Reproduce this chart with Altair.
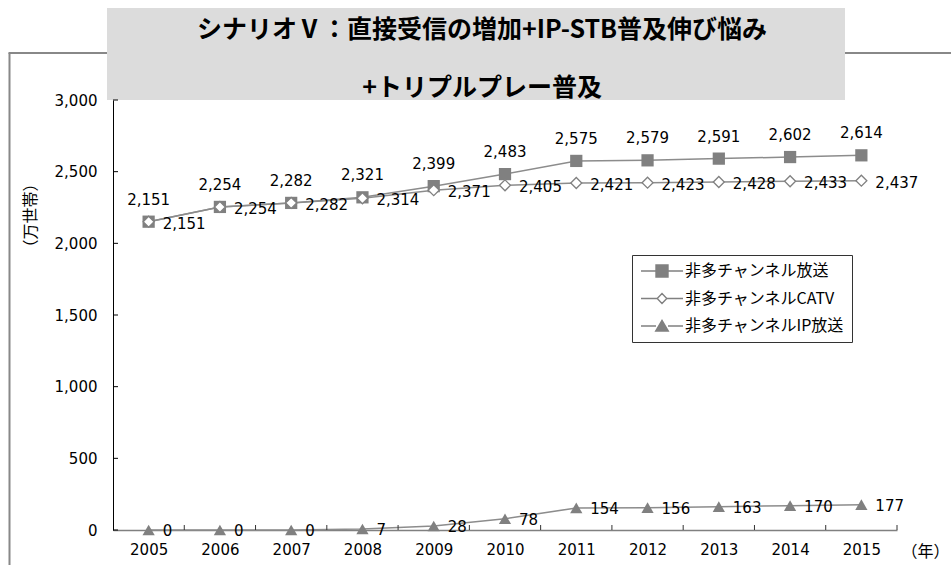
import altair as alt
import pandas as pd

years = list(range(2005, 2016))
broadcast = [2151, 2254, 2282, 2321, 2399, 2483, 2575, 2579, 2591, 2602, 2614]
catv = [2151, 2254, 2282, 2314, 2371, 2405, 2421, 2423, 2428, 2433, 2437]
ip = [0, 0, 0, 7, 28, 78, 154, 156, 163, 170, 177]
series_names = ["非多チャンネル放送", "非多チャンネルCATV", "非多チャンネルIP放送"]
y_ticks = [0, 500, 1000, 1500, 2000, 2500, 3000]
title_lines = ["シナリオⅤ：直接受信の増加+IP-STB普及伸び悩み", "+トリプルプレー普及"]
x_title = "（年）"
y_title = "（万世帯）"

rows = []
for name, vals in zip(series_names, [broadcast, catv, ip]):
    for yr, v in zip(years, vals):
        rows.append({"year": yr, "value": v, "series": name})
df = pd.DataFrame(rows)
tick_df = pd.DataFrame({"year": years})
ytick_df = pd.DataFrame({"value": y_ticks})

W, H = 784, 430
GRAY = "#808080"
LINE = "#8c8c8c"
NUM_FONT = "DejaVu Sans"
JP_FONT = "Noto Sans CJK JP"

xscale = alt.Scale(domain=[2004.5, 2015.5], nice=False, zero=False)
yscale = alt.Scale(domain=[0, 3000], nice=False)

x_axis = alt.Axis(values=years, format="d", title=x_title, ticks=False, grid=False,
                  domainColor=GRAY, domainWidth=1.5, labelFont=NUM_FONT, labelFontSize=15,
                  labelPadding=12, labelColor="black", labelFlush=False,
                  titleFont=JP_FONT, titleFontSize=16, titleFontWeight="normal", titleColor="black",
                  titleX=812, titleY=21, titleAlign="center", titleBaseline="middle")
y_axis = alt.Axis(values=y_ticks, format=",d", title=y_title, ticks=False, grid=False,
                  domainColor="black", domainWidth=1, labelFont=NUM_FONT, labelFontSize=15,
                  labelPadding=16, labelColor="black",
                  titleFont=JP_FONT, titleFontSize=16, titleFontWeight="normal", titleColor="black",
                  titleX=-83, titleY=115, titleAlign="center", titleBaseline="middle", titleAngle=270)

x_enc = alt.X("year:Q", scale=xscale, axis=x_axis)
y_enc = alt.Y("value:Q", scale=yscale, axis=y_axis)

base = alt.Chart(df)
one = alt.Data(values=[{}])

# decorations
border_left = alt.Chart(one).mark_rule(color="#888888", strokeWidth=2).encode(
    x=alt.value(-103.5), x2=alt.value(-103.5), y=alt.value(-47), y2=alt.value(470))
border_top = alt.Chart(one).mark_rule(color="#888888", strokeWidth=2).encode(
    x=alt.value(-104.5), x2=alt.value(840), y=alt.value(-47), y2=alt.value(-47))
title_box = alt.Chart(one).mark_rect(color="#dcdcdc").encode(
    x=alt.value(-6), x2=alt.value(732), y=alt.value(-92), y2=alt.value(0))
title1 = alt.Chart(one).mark_text(font=JP_FONT, fontSize=25, fontWeight="bold", color="black",
                                  align="center", baseline="middle", text=title_lines[0]).encode(
    x=alt.value(369), y=alt.value(-70))
title2 = alt.Chart(one).mark_text(font=JP_FONT, fontSize=25, fontWeight="bold", color="black",
                                  align="center", baseline="middle", text=title_lines[1]).encode(
    x=alt.value(369), y=alt.value(-12))

# inward ticks
xticks = alt.Chart(tick_df).transform_calculate(year="datum.year + 0.5").mark_rule(
    color="#333333", strokeWidth=1).encode(
    x=x_enc, y=alt.value(H - 5), y2=alt.value(H))
yticks = alt.Chart(ytick_df).mark_rule(color="black", strokeWidth=1).encode(
    y=y_enc, x=alt.value(0), x2=alt.value(5))

lines = base.mark_line(color=LINE, strokeWidth=1.5).encode(x=x_enc, y=y_enc, detail="series:N")

sq = base.transform_filter(alt.datum.series == series_names[0]).mark_point(
    shape="square", filled=True, color=GRAY, size=150, opacity=1).encode(x=x_enc, y=y_enc)
dm = base.transform_filter(alt.datum.series == series_names[1]).mark_point(
    shape="diamond", filled=True, fill="white", stroke=GRAY, strokeWidth=1.3, size=120, opacity=1).encode(x=x_enc, y=y_enc)
tr = base.transform_filter(alt.datum.series == series_names[2]).mark_point(
    shape="triangle-up", filled=True, color=GRAY, size=150, opacity=1).encode(x=x_enc, y=y_enc)

txt = alt.Text("value:Q", format=",d")
lab_b = base.transform_filter(alt.datum.series == series_names[0]).mark_text(
    font=NUM_FONT, fontSize=15, color="black", align="center", baseline="middle", dy=-22).encode(
    x=x_enc, y=y_enc, text=txt)
lab_c = base.transform_filter(alt.datum.series == series_names[1]).mark_text(
    font=NUM_FONT, fontSize=15, color="black", align="left", baseline="middle", dx=14, dy=2).encode(
    x=x_enc, y=y_enc, text=txt)
lab_i = base.transform_filter(alt.datum.series == series_names[2]).mark_text(
    font=NUM_FONT, fontSize=15, color="black", align="left", baseline="middle", dx=14, dy=1).encode(
    x=x_enc, y=y_enc, text=txt)

legend_paths = [
    "M-3.5,0H-1M1,0H3.5M-1,-1H1V1H-1Z",
    "M-3.5,0H-0.8M0.8,0H3.5M0,-0.85L0.8,0L0,0.85L-0.8,0Z",
    "M-3.5,0H-1M1,0H3.5M0,-0.95L1.05,0.85H-1.05Z",
]
leg = alt.Legend(title=None, orient="none", legendX=519, legendY=155,
                 labelFont=JP_FONT, labelFontSize=16, labelColor="black",
                 symbolSize=144, symbolStrokeWidth=1.4, symbolOpacity=1,
                 symbolOffset=14, labelOffset=15, padding=8, rowPadding=10.5,
                 strokeColor="#333333", fillColor="white")
legend_layer = base.mark_point(filled=True, opacity=0, size=144).encode(
    x=x_enc, y=y_enc,
    shape=alt.Shape("series:N", scale=alt.Scale(domain=series_names, range=legend_paths), legend=leg),
    fill=alt.Fill("series:N", scale=alt.Scale(domain=series_names, range=[GRAY, "white", GRAY]), legend=leg),
    stroke=alt.Stroke("series:N", scale=alt.Scale(domain=series_names, range=[GRAY, GRAY, GRAY]), legend=leg),
)

chart = alt.layer(
    border_left, border_top, title_box, title1, title2,
    lines, xticks, yticks, sq, dm, tr, lab_b, lab_c, lab_i, legend_layer,
).properties(
    width=W, height=H,
    padding={"left": 113, "top": 100, "right": 54, "bottom": 35},
    autosize=alt.AutoSizeParams(type="none"),
    background="white",
).configure_view(stroke=None)

chart.save("out.html", embed_options={"renderer": "svg", "actions": False})
